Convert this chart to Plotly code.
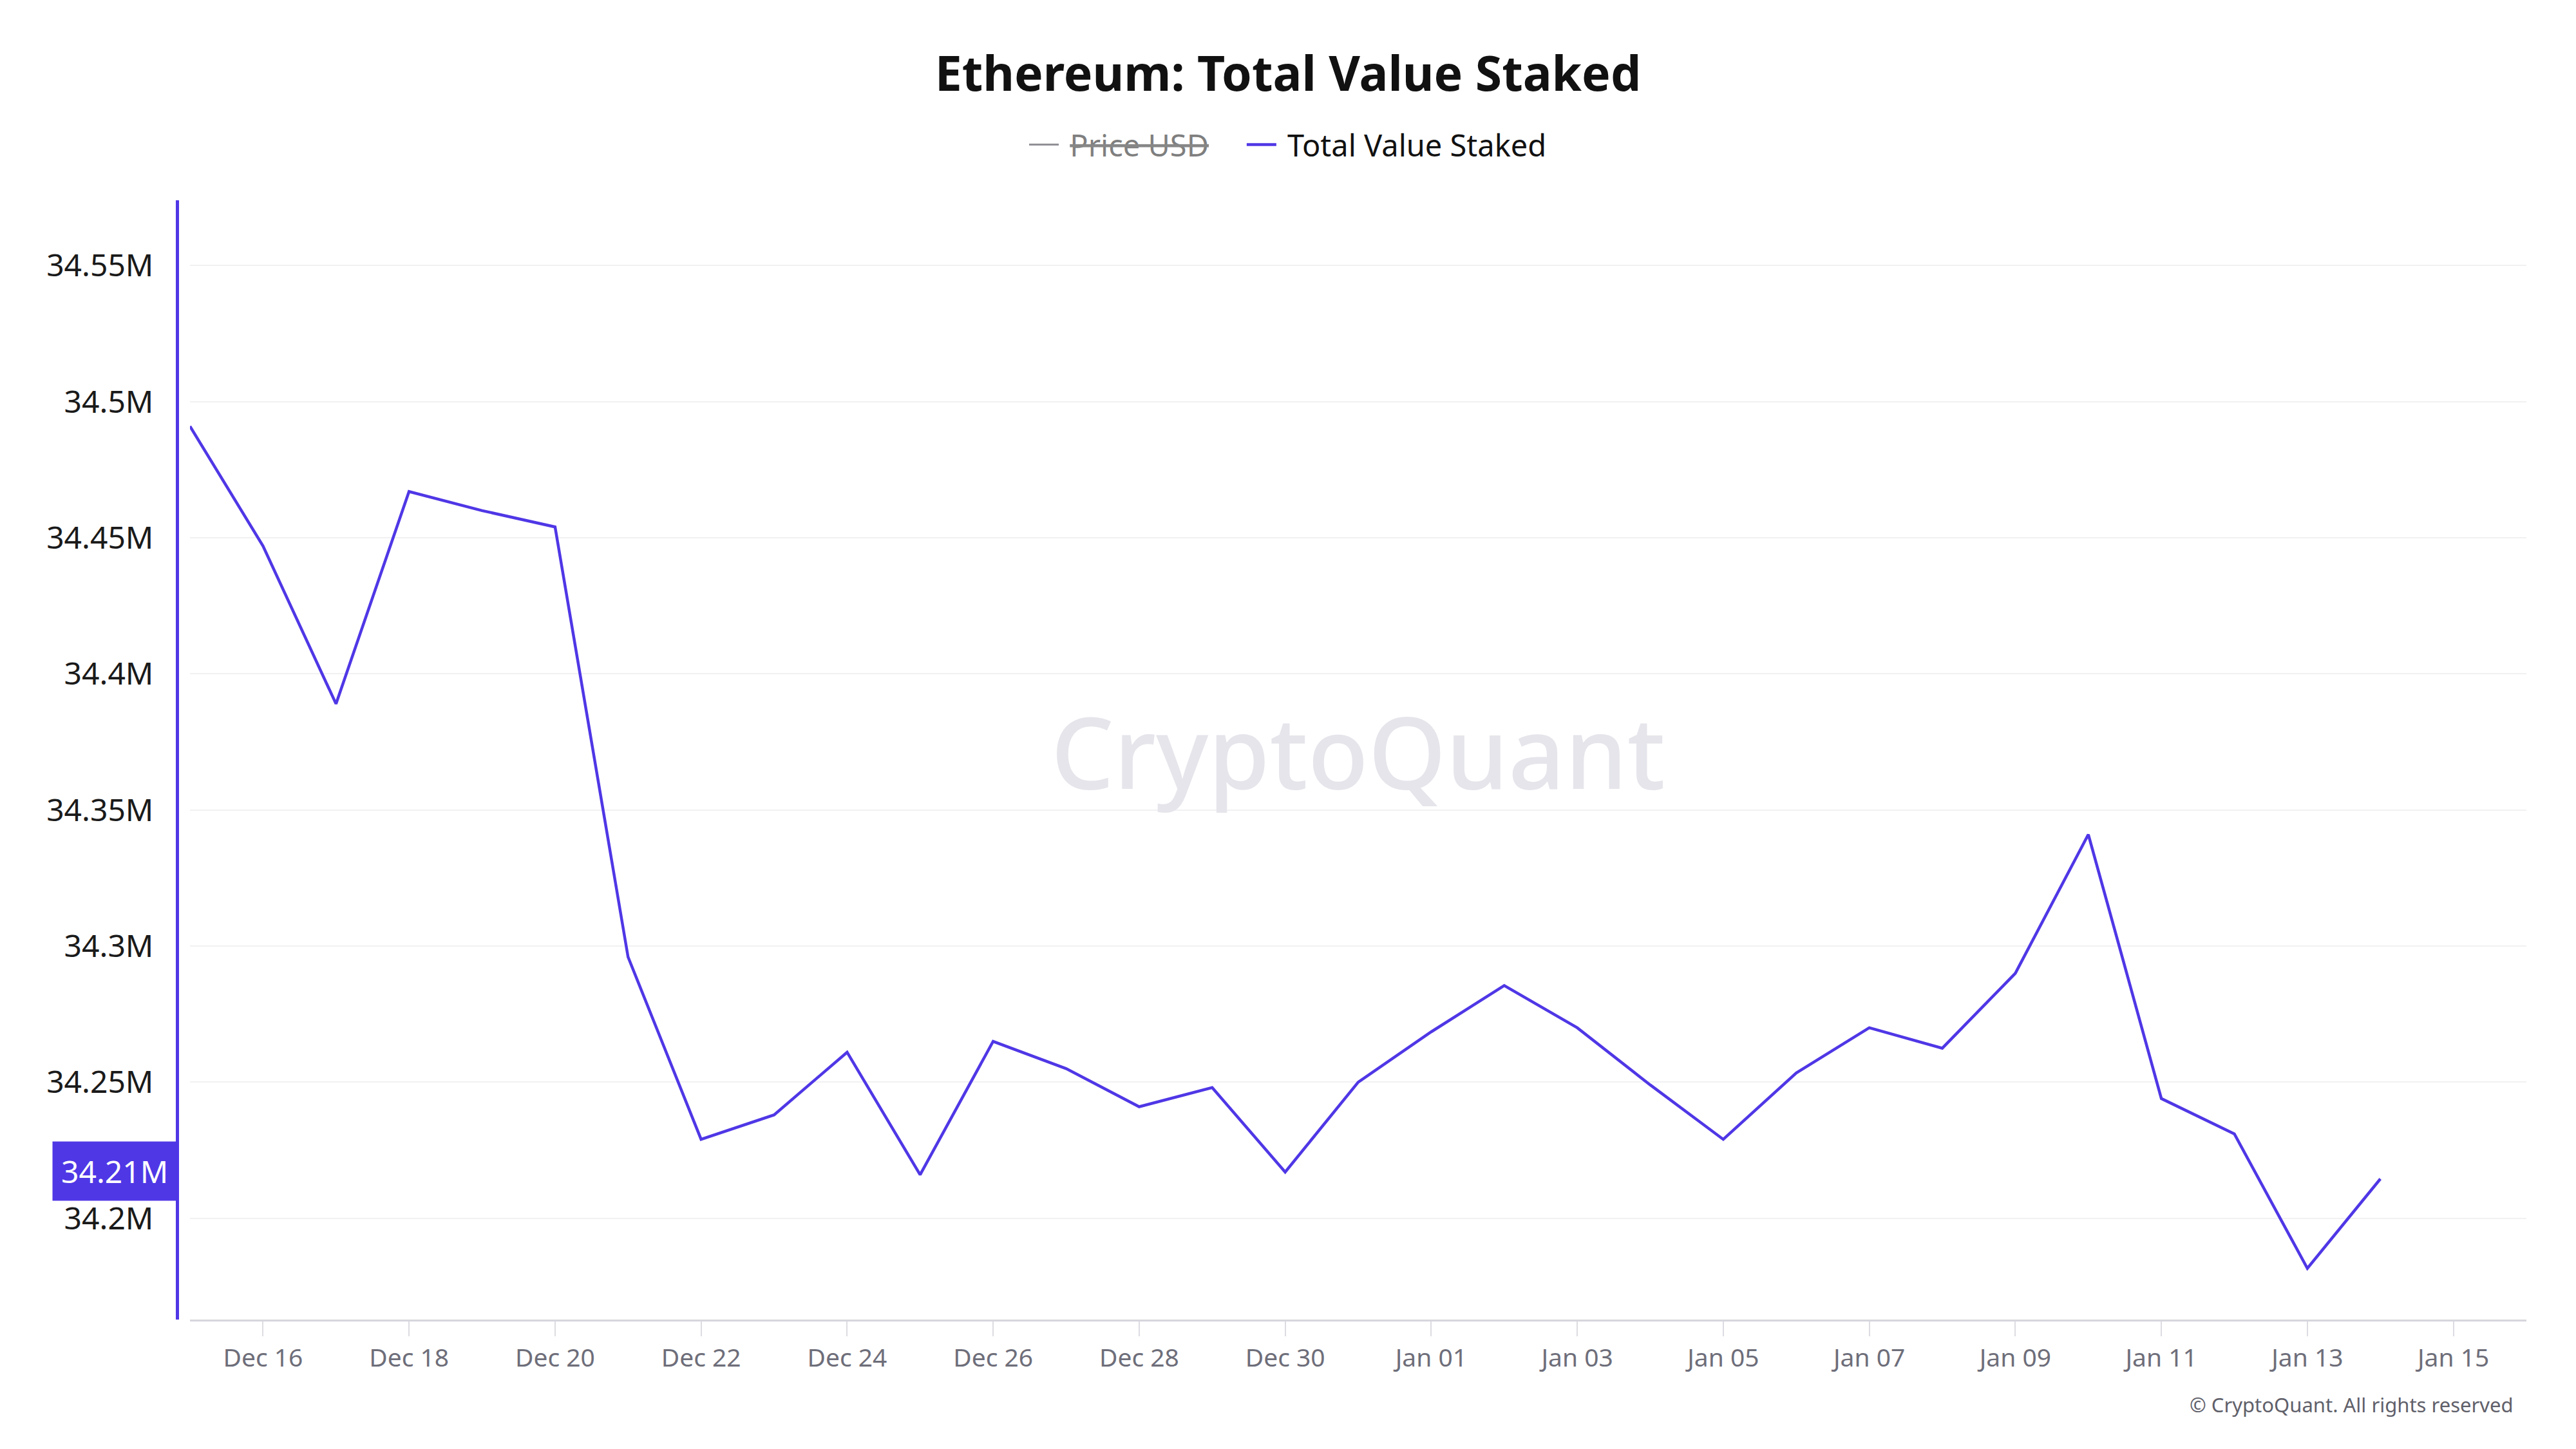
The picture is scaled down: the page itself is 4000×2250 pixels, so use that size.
import plotly.graph_objects as go

dates = ["2024-12-15", "2024-12-16", "2024-12-17", "2024-12-18", "2024-12-19", "2024-12-20",
         "2024-12-21", "2024-12-22", "2024-12-23", "2024-12-24", "2024-12-25", "2024-12-26",
         "2024-12-27", "2024-12-28", "2024-12-29", "2024-12-30", "2024-12-31", "2025-01-01",
         "2025-01-02", "2025-01-03", "2025-01-04", "2025-01-05", "2025-01-06", "2025-01-07",
         "2025-01-08", "2025-01-09", "2025-01-10", "2025-01-11", "2025-01-12", "2025-01-13",
         "2025-01-14"]
total_value_staked = [34.491e6, 34.447e6, 34.389e6, 34.467e6, 34.460e6, 34.454e6,
                      34.296e6, 34.229e6, 34.238e6, 34.261e6, 34.216e6, 34.265e6,
                      34.255e6, 34.241e6, 34.248e6, 34.217e6, 34.250e6, 34.2685e6,
                      34.2855e6, 34.270e6, 34.249e6, 34.229e6, 34.2534e6, 34.270e6,
                      34.2625e6, 34.290e6, 34.341e6, 34.244e6, 34.231e6, 34.1816e6,
                      34.2145e6]
# Price USD series is hidden (legend only) in the reference; no values visible
price_dates = dates[:1]
price_usd = [None]

PURPLE = "#4f37e6"
W, H = 4000, 2250
ML, MR, MT, MB = 0, 77, 311, 201
PW = W - ML - MR
x0 = 295 / PW
yaxis_pos = 275 / PW
NB = "\u00a0"

fig = go.Figure()
fig.add_trace(go.Scatter(x=price_dates, y=price_usd,
                         name=NB + "<s><span style='color:#000000'>Price USD</span></s>" + NB * 4,
                         mode="lines", line=dict(color="#222230", width=3), visible="legendonly"))
fig.add_trace(go.Scatter(x=dates, y=total_value_staked, name=NB + "Total Value Staked", mode="lines",
                         line=dict(color=PURPLE, width=4.5)))

last = total_value_staked[-1]
fig.add_annotation(text=f"{last/1e6:.2f}M", xref="paper", x=yaxis_pos, xanchor="right",
                   yref="y", y=last, yanchor="middle", yshift=12, showarrow=False,
                   bgcolor=PURPLE, borderpad=13, font=dict(color="white", size=48, family="Noto Sans"))
fig.add_annotation(text="CryptoQuant", xref="x domain", x=0.5, yref="y domain", y=0.5, yshift=15,
                   showarrow=False, font=dict(color="#e5e5eb", size=154, family="Noto Sans", weight=500))
fig.add_annotation(text="© CryptoQuant. All rights reserved", xref="paper", x=3905 / PW, xanchor="right",
                   yref="paper", y=(2049 - 2181) / (H - MT - MB), yanchor="middle", showarrow=False,
                   font=dict(color="#60606a", size=31, family="Noto Sans"))

fig.update_layout(
    width=W, height=H,
    margin=dict(l=ML, r=MR, t=MT, b=MB),
    paper_bgcolor="white", plot_bgcolor="white",
    font=dict(family="Noto Sans", color="#111111"),
    title=dict(text="<b>Ethereum: Total Value Staked</b>", x=0.5, xref="container", xanchor="center",
               y=1 - 115 / H, yref="container", yanchor="middle",
               font=dict(size=75, color="#111111", family="Noto Sans")),
    legend=dict(orientation="h", x=0.5, xref="container", xanchor="center",
                y=1 - 225 / H, yref="container", yanchor="middle",
                font=dict(size=47, color="#111111"), itemwidth=46),
    showlegend=True,
    xaxis=dict(domain=[x0, 1], range=["2024-12-15", "2025-01-16"], type="date",
               tick0="2024-12-16", dtick=2 * 86400000, tickformat="%b %d",
               showgrid=False, showline=True, linecolor="#d6d6de", linewidth=3,
               ticks="outside", ticklen=23, tickwidth=2, tickcolor="#dcdce2",
               tickfont=dict(size=39, color="#6e6e7a"), zeroline=False),
    yaxis=dict(anchor="free", position=yaxis_pos, range=[34.1628e6, 34.574e6],
               dtick=50000, tick0=34.2e6, tickformat="~s",
               showgrid=True, gridcolor="#f1f1f3", gridwidth=2,
               showline=True, linecolor=PURPLE, linewidth=5, zeroline=False,
               ticks="", ticklabelstandoff=25,
               tickfont=dict(size=48, color="#1a1a1a")),
)

fig.write_html("out.html", post_script="document.body.style.margin='0';",
               config={"displayModeBar": False})
